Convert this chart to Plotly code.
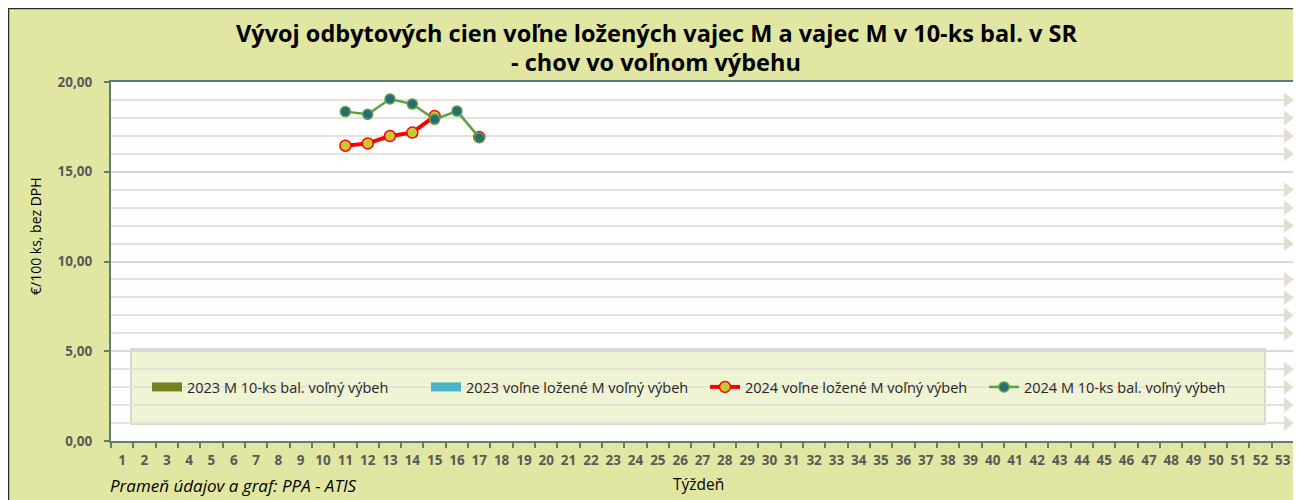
import plotly.graph_objects as go

weeks = list(range(1, 54))

# 2024 series (weeks 11-17), missing week = no data
loose_2024 = {11: 16.45, 12: 16.58, 13: 16.99, 14: 17.18, 15: 18.10, 17: 16.93}
pack_2024 = {11: 18.35, 12: 18.20, 13: 19.05, 14: 18.77, 15: 17.92, 16: 18.38, 17: 16.90}
pack_2023 = {}
loose_2023 = {}

names = [
    "2023 M 10-ks bal. voľný výbeh",
    "2023 voľne ložené M voľný výbeh",
    "2024 voľne ložené M voľný výbeh",
    "2024 M 10-ks bal. voľný výbeh",
]

title_lines = ["Vývoj odbytových cien voľne ložených vajec M a vajec M v 10-ks bal. v SR",
               "- chov vo voľnom výbehu"]
y_title = "€/100 ks, bez DPH"
x_title = "Týždeň"
source = "Prameň údajov a graf: PPA - ATIS"

Y_MAX = 20
Y_DTICK = 5

W, H = 1301, 500
OFF = 8  # page body margin (screen px = figure px + OFF)
ML, MR, MT, MB = 103, 15, 74, 67
PW = W - ML - MR
PH = H - MT - MB


def fx(sx):
    return (sx - OFF - ML) / PW


def fy(sy):
    return (H - MB - (sy - OFF)) / PH


def series(d):
    return [d.get(i) for i in weeks]


FONT = "Open Sans"
BG = "#e1e7a3"
AXC = "#5e7f6f"

fig = go.Figure()

fig.add_trace(go.Scatter(x=weeks, y=series(pack_2023), mode="lines", name=names[0],
                         line=dict(color="#77801f", width=9)))
fig.add_trace(go.Scatter(x=weeks, y=series(loose_2023), mode="lines", name=names[1],
                         line=dict(color="#4bb3c6", width=9)))
fig.add_trace(go.Scatter(x=weeks, y=series(loose_2024), mode="lines+markers", name=names[2],
                         line=dict(color="#ff0000", width=4),
                         marker=dict(size=11, color="#c5c935", line=dict(color="#ff0000", width=1.5)),
                         connectgaps=False))
fig.add_trace(go.Scatter(x=weeks, y=series(pack_2024), mode="lines+markers", name=names[3],
                         line=dict(color="#5aa345", width=2.5),
                         marker=dict(size=10, color="#2a6b78", line=dict(color="#5aa345", width=1.5))))

# decorative arrowheads at right end of minor gridlines
x_lo, x_hi = weeks[0] - 0.5, weeks[-1] + 0.5
minor_vals = [v for v in range(1, Y_MAX) if v % Y_DTICK != 0]
fig.add_trace(go.Scatter(x=[x_hi - 0.3] * len(minor_vals), y=minor_vals, mode="markers",
                         marker=dict(symbol="triangle-right", size=13, color="#e3ddd2"),
                         showlegend=False, hoverinfo="skip", cliponaxis=False))

shapes = [
    # outer chart frame
    dict(type="rect", xref="paper", yref="paper", x0=-ML / PW, x1=1.2, y0=-0.3, y1=(PH + MT) / PH,
         fillcolor="rgba(0,0,0,0)", line=dict(color="#2b2b2b", width=2.5), layer="below"),
    # legend box inside plot
    dict(type="rect", xref="paper", yref="paper", x0=fx(131), x1=fx(1265), y0=fy(424), y1=fy(349),
         fillcolor="#eff4d4", line=dict(color="#c9d1c4", width=1.5), layer="between"),
]

annotations = [
    dict(text="<b>" + title_lines[0] + "</b>", x=fx(656), y=fy(33), xref="paper", yref="paper",
         xanchor="center", yanchor="middle",
         showarrow=False, font=dict(family=FONT, size=23.5, color="#000000")),
    dict(text="<b>" + title_lines[1] + "</b>", x=fx(656), y=fy(62), xref="paper", yref="paper",
         xanchor="center", yanchor="middle",
         showarrow=False, font=dict(family=FONT, size=23.5, color="#000000")),
    dict(text=y_title, x=fx(35), y=fy(236), xref="paper", yref="paper", textangle=-90,
         xanchor="center", yanchor="middle",
         showarrow=False, font=dict(family=FONT, size=14, color="#000000")),
    dict(text=x_title, x=fx(698), y=fy(484), xref="paper", yref="paper",
         xanchor="center", yanchor="middle",
         showarrow=False, font=dict(family=FONT, size=15.5, color="#000000")),
    dict(text="<i>" + source + "</i>", x=fx(108), y=fy(486), xref="paper", yref="paper",
         xanchor="left", yanchor="middle",
         showarrow=False, font=dict(family=FONT, size=17, color="#000000")),
]

fig.update_layout(
    width=W, height=H,
    margin=dict(l=ML, r=MR, t=MT, b=MB, autoexpand=False),
    paper_bgcolor=BG, plot_bgcolor="white",
    separators=", ",
    showlegend=True,
    legend=dict(orientation="h", x=fx(147), y=fy(387), xanchor="left", yanchor="middle",
                bgcolor="rgba(0,0,0,0)", font=dict(family=FONT, size=14.5, color="#262626"),
                traceorder="normal", entrywidth=234, entrywidthmode="pixels"),
    shapes=shapes,
    annotations=annotations,
    xaxis=dict(range=[x_lo, x_hi], tickmode="array", tickvals=weeks,
               ticks="", tickangle=0, automargin=False,
               minor=dict(tickvals=[w - 0.5 for w in weeks] + [x_hi], ticks="outside", ticklen=5,
                          tickcolor=AXC, tickwidth=1.5, showgrid=False),
               showgrid=False, showline=True, linecolor=AXC, linewidth=2, mirror=True,
               tickfont=dict(family=FONT, size=13.5, color="#595959", weight="bold"),
               ticklabelstandoff=6, zeroline=False, fixedrange=True),
    yaxis=dict(range=[0, Y_MAX], tickmode="linear", tick0=0, dtick=Y_DTICK, tickformat=".2f",
               ticks="outside", ticklen=5, tickcolor=AXC, tickwidth=1.5, automargin=False,
               showgrid=True, gridcolor="#d9d9d9", gridwidth=1.5,
               minor=dict(tickvals=minor_vals, showgrid=True, gridcolor="#e8e1d6", gridwidth=1.5,
                          ticks=""),
               showline=True, linecolor=AXC, linewidth=2, mirror=True,
               tickfont=dict(family=FONT, size=13.5, color="#595959", weight="bold"),
               ticklabelstandoff=9, zeroline=False, fixedrange=True),
)

fig.write_html("out.html")
